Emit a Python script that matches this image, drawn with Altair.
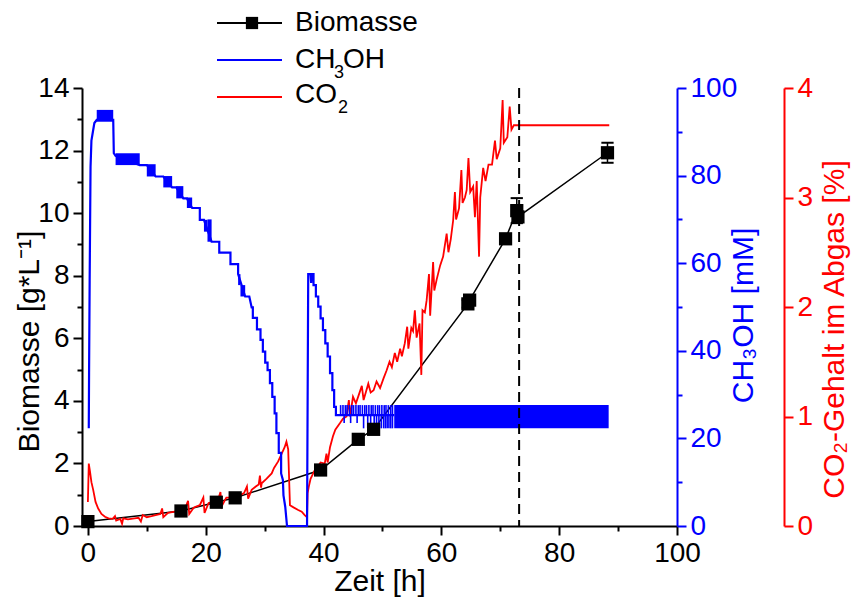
import altair as alt
import pandas as pd

FONT = "Liberation Sans"
BLUE = "#0000ff"
RED = "#ff0000"

# ---------------- data ----------------
bio_t = [0.0, 15.8, 21.8, 25.0, 39.5, 45.9, 48.5, 64.5, 64.8, 70.9, 72.8, 73.0, 88.2]
bio_v = [0.14, 0.48, 0.76, 0.90, 1.79, 2.77, 3.09, 7.10, 7.22, 9.18, 10.08, 9.88, 11.93]
bio_err = [0, 0, 0, 0, 0, 0, 0, 0.12, 0.10, 0, 0.40, 0, 0.32]

ch_t = [0.15, 0.20, 0.30, 0.45, 0.60, 0.85, 1.10, 1.50, 4.30, 4.40, 4.70, 8.80, 10.0, 11.5,
        12.8, 14.3, 15.0, 16.2, 16.8, 17.7, 19.0, 19.0, 19.7, 21.0, 22.3, 22.3, 24.2, 24.2,
        25.5, 25.5, 26.7, 27.4, 27.8, 28.0, 28.0, 28.7, 28.7, 29.3, 29.3, 29.7, 29.7, 30.1,
        30.1, 30.5, 30.5, 30.9, 30.9, 31.3, 31.3, 31.7, 31.7, 32.0, 32.0, 32.4, 32.4, 32.8,
        32.8, 33.1, 33.2, 33.5, 33.8, 37.2, 37.4, 37.8, 37.9, 38.0, 38.3, 38.3, 38.7, 38.7,
        39.1, 39.1, 39.5, 39.5, 39.9, 39.9, 40.3, 40.3, 40.7, 40.7, 41.1, 41.1, 41.5, 41.5,
        41.8, 41.8, 42.1, 42.1, 52.0]
ch_v = [22.3, 35.0, 56.0, 82.0, 88.0, 90.0, 92.0, 92.7, 92.7, 85.1, 84.5, 82.4, 82.4, 79.8,
        79.8, 77.3, 77.3, 74.8, 74.8, 72.6, 72.6, 69.9, 69.9, 64.9, 64.9, 62.4, 62.4, 59.8,
        59.8, 57.5, 52.4, 52.4, 49.9, 49.9, 47.5, 47.5, 44.9, 44.9, 42.5, 42.5, 39.8, 39.8,
        37.3, 37.3, 35.6, 35.6, 32.6, 32.6, 29.5, 29.5, 25.7, 25.7, 21.2, 21.2, 16.7, 16.7,
        12.0, 10.5, 7.0, 4.4, 0.0, 0.0, 57.5, 57.5, 55.5, 57.5, 57.5, 55.0, 55.0, 52.4,
        52.4, 50.1, 50.1, 47.4, 47.4, 44.7, 44.7, 41.7, 41.7, 38.7, 38.7, 34.9, 34.9, 31.0,
        31.0, 27.2, 27.2, 25.3, 25.3]

# dense oscillation blocks of the methanol signal
blk_t0 = [1.5, 4.7, 10.0, 12.8, 15.0, 16.8, 19.7, 20.3, 25.5, 25.9, 52.0]
blk_t1 = [4.3, 8.8, 11.5, 14.3, 16.2, 17.7, 20.3, 21.0, 25.9, 26.7, 88.4]
blk_lo = [92.3, 82.4, 79.8, 77.3, 74.8, 72.6, 67.2, 64.9, 55.0, 52.4, 22.3]
blk_hi = [95.0, 85.1, 82.6, 79.9, 77.6, 75.0, 69.9, 70.0, 57.5, 55.0, 27.6]

# single methanol feed spikes
spk_t = [42.9, 43.3, 43.7, 44.0, 44.4, 44.8, 45.1, 45.5, 45.9, 46.2, 46.6, 47.0, 47.3,
         47.7, 48.1, 48.4, 48.8, 49.2, 49.5, 49.9, 50.3, 50.6, 51.0, 51.4, 51.7,
         43.5, 44.6, 45.7, 46.8, 47.5, 48.0, 48.6, 49.0, 49.4, 49.8, 50.2, 50.5, 50.8,
         51.1, 51.4, 51.7]
spk_lo = [25.3] * 25 + [23.5, 23.5, 23.5, 22.3, 22.3, 22.3, 22.3, 22.3, 22.3, 22.3,
                        22.3, 22.3, 22.3, 22.3, 22.3, 22.3]
spk_hi = [27.6] * 25 + [25.3] * 16

co2_t = [0.0, 0.15, 0.35, 0.6, 0.9, 1.3, 1.75, 2.3, 2.9, 3.5, 4.2, 4.6, 4.8, 5.5, 5.8, 6.0,
         6.8, 7.9, 8.6, 9.0, 9.3, 10.0, 10.8, 11.5, 12.3, 12.6, 12.8, 13.6, 14.5, 15.5, 16.5,
         17.0, 17.2, 18.0, 19.0, 19.6, 19.8, 20.5, 21.3, 22.1, 22.5, 22.7, 23.5, 24.3, 25.0,
         25.8, 26.5, 27.0, 27.2, 27.8, 28.5, 29.0, 29.2, 29.4, 29.5, 30.3, 31.2, 31.6, 32.3,
         32.9, 33.4, 33.7, 34.0, 34.3, 34.9, 35.7, 36.3, 36.8, 37.2, 37.3, 37.5, 37.8, 38.5,
         39.0, 39.5, 40.2, 40.5, 40.7, 41.1, 41.6, 42.0, 42.8, 43.3, 43.9, 44.3, 44.5, 45.0,
         45.5, 46.0, 46.5, 46.8, 47.6, 48.0, 48.5, 49.0, 49.6, 50.2, 50.7, 51.2, 51.6, 52.1,
         52.5, 53.0, 53.3, 53.8, 54.2, 54.4, 54.9, 55.2, 55.5, 55.8, 56.3, 56.6, 56.8, 57.2,
         57.5, 57.9, 58.1, 58.6, 58.8, 59.2, 59.8, 60.3, 60.9, 61.2, 61.6, 62.0, 62.3, 62.5,
         63.0, 63.4, 63.6, 64.0, 64.3, 64.6, 64.9, 65.4, 65.7, 66.0, 66.4, 66.6, 67.1, 67.5,
         68.0, 68.6, 69.1, 69.4, 70.0, 70.4, 70.6, 71.2, 71.6, 71.9, 72.3, 88.5]
co2_v = [0.22, 0.57, 0.50, 0.40, 0.33, 0.22, 0.16, 0.11, 0.085, 0.07, 0.065, 0.09, 0.05, 0.065,
         0.02, 0.07, 0.06, 0.07, 0.075, 0.04, 0.10, 0.08, 0.09, 0.10, 0.11, 0.16, 0.08, 0.12,
         0.13, 0.14, 0.16, 0.23, 0.11, 0.17, 0.19, 0.26, 0.12, 0.21, 0.22, 0.24, 0.31, 0.18,
         0.26, 0.26, 0.26, 0.28, 0.30, 0.36, 0.25, 0.33, 0.36, 0.38, 0.46, 0.35, 0.39, 0.43,
         0.48, 0.53, 0.59, 0.66, 0.72, 0.77, 0.70, 0.19, 0.17, 0.146, 0.13, 0.10, 0.08, 0.30,
         0.36, 0.43, 0.51, 0.54, 0.58, 0.57, 0.66, 0.58, 0.72, 0.82, 0.88, 0.94, 0.98, 1.00,
         1.15, 1.00, 1.18, 1.12, 1.20, 1.28, 1.15, 1.30, 1.22, 1.24, 1.32, 1.26, 1.35, 1.42,
         1.50, 1.45, 1.58, 1.50, 1.62, 1.55, 1.67, 1.82, 1.62, 1.81, 1.78, 1.97, 1.72, 1.85,
         1.38, 1.97, 1.95, 2.06, 2.30, 1.92, 2.41, 2.15, 2.25, 2.38, 2.46, 2.67, 2.50, 2.62,
         2.79, 3.05, 2.80, 2.90, 3.25, 2.95, 3.00, 3.07, 3.36, 3.05, 3.10, 2.82, 3.15, 2.46,
         3.00, 3.27, 3.15, 3.30, 3.30, 3.52, 3.35, 3.45, 3.89, 3.50, 3.55, 3.83, 3.62, 3.66,
         3.66]

cut_t = [73.2]
# legend texts: main part and subscript part
legend_main = ["Biomasse", "CH", "CO"]
legend_sub = ["", "3", "2"]
legend_tail = ["", "OH", ""]

# ---------------- frames ----------------
bio_df = pd.DataFrame({"t": bio_t, "v": bio_v, "err": bio_err})
bio_df["lo"] = bio_df["v"] - bio_df["err"]
bio_df["hi"] = bio_df["v"] + bio_df["err"]
err_df = bio_df[bio_df["err"] > 0]

ch_df = pd.DataFrame({"t": ch_t, "v": ch_v, "i": range(len(ch_t))})
blk_df = pd.DataFrame({"t0": blk_t0, "t1": blk_t1, "lo": blk_lo, "hi": blk_hi})
spk_df = pd.DataFrame({"t": spk_t, "lo": spk_lo, "hi": spk_hi})
co2_df = pd.DataFrame({"t": co2_t, "v": co2_v, "i": range(len(co2_t))})
cut_df = pd.DataFrame({"t": cut_t})

# ---------------- axes ----------------
def major_test(step):
    return f"abs(datum.value / {step} - round(datum.value / {step})) < 1e-6"


def make_axis(title, color, values, step, orient, offset=0, **kw):
    return alt.Axis(
        title=title, orient=orient, offset=offset, values=values, format="d",
        labelExpr=f"{major_test(step)} ? datum.label : ''",
        tickSize={"condition": {"test": major_test(step), "value": 9}, "value": 5},
        tickWidth=2, domainWidth=2, domainColor=color, tickColor=color,
        labelColor=color, titleColor=color, labelFont=FONT, labelFontSize=28,
        titleFont=FONT, titleFontSize=30, titleFontWeight="normal",
        labelPadding=4, labelOverlap=False, labelFlush=False, grid=False, **kw)


x_axis = make_axis("Zeit [h]", "black", list(range(0, 101, 10)), 20, "bottom",
                   titleBaseline="alphabetic", titleY=64)
bio_axis = make_axis("Biomasse [g*L⁻¹]", "black", list(range(0, 15)), 2, "left",
                     titleAngle=270, titleX=-53, titleY=253, titleAlign="center",
                     titleBaseline="middle")
ch_axis = make_axis("CH₃OH [mM]", BLUE, list(range(0, 101, 10)), 20, "right",
                    titleAngle=270, titleX=66, titleY=227, titleAlign="center",
                    titleBaseline="middle")
co2_axis = make_axis("CO₂-Gehalt im Abgas [%]", RED, [i * 0.5 for i in range(9)], 1,
                     "right", offset=107, titleAngle=270, titleX=50, titleY=241,
                     titleAlign="center", titleBaseline="middle")

xs = alt.Scale(domain=[-1, 100], nice=False, zero=False)
ybio = alt.Scale(domain=[0, 14], nice=False, zero=False)
ych = alt.Scale(domain=[0, 100], nice=False, zero=False)
yco2 = alt.Scale(domain=[0, 4], nice=False, zero=False)

# every layer carries the same (shared) x axis definition so the merge keeps it
X0 = alt.X("t:Q", scale=xs, axis=x_axis)

# ---------------- biomass ----------------
bio_line = alt.Chart(bio_df).mark_line(color="black", strokeWidth=1.5).encode(
    x=X0, y=alt.Y("v:Q", scale=ybio, axis=bio_axis))
bio_err_rule = alt.Chart(err_df).mark_rule(color="black", strokeWidth=1.5).encode(
    x=X0, y=alt.Y("lo:Q", scale=ybio, axis=None), y2="hi:Q")
bio_cap_lo = alt.Chart(err_df).mark_point(shape="stroke", size=150, strokeWidth=2,
                                          color="black", opacity=1).encode(
    x=X0, y=alt.Y("lo:Q", scale=ybio, axis=None))
bio_cap_hi = alt.Chart(err_df).mark_point(shape="stroke", size=150, strokeWidth=2,
                                          color="black", opacity=1).encode(
    x=X0, y=alt.Y("hi:Q", scale=ybio, axis=None))
bio_pts = alt.Chart(bio_df).mark_square(size=175, color="black", opacity=1).encode(
    x=X0, y=alt.Y("v:Q", scale=ybio, axis=None))
cut = alt.Chart(cut_df).mark_rule(color="black", strokeWidth=2, strokeDash=[10, 6]).encode(
    x=X0)

# ---------------- methanol ----------------
ch_blk = alt.Chart(blk_df).mark_rect(color=BLUE).encode(
    x=alt.X("t0:Q", scale=xs, axis=x_axis), x2="t1:Q",
    y=alt.Y("lo:Q", scale=ych, axis=ch_axis), y2="hi:Q")
ch_spk = alt.Chart(spk_df).mark_rule(color=BLUE, strokeWidth=1.6).encode(
    x=X0, y=alt.Y("lo:Q", scale=ych, axis=None), y2="hi:Q")
ch_line = alt.Chart(ch_df).mark_line(color=BLUE, strokeWidth=2.2).encode(
    x=X0, y=alt.Y("v:Q", scale=ych, axis=None), order="i:Q")

# ---------------- CO2 ----------------
co2_line = alt.Chart(co2_df).mark_line(color=RED, strokeWidth=1.8).encode(
    x=X0, y=alt.Y("v:Q", scale=yco2, axis=co2_axis), order="i:Q")

# ---------------- legend ----------------
leg_y = [-65, -28, 7]
leg_line_y = [-65, -28, 9]
leg_colors = ["black", BLUE, RED]
leg_sub_x = [0, 252, 256]
legend_parts = []
for k in range(3):
    d = pd.DataFrame({"main": [legend_main[k]], "sub": [legend_sub[k]],
                      "tail": [legend_tail[k]]})
    legend_parts.append(alt.Chart(d).mark_rule(color=leg_colors[k], strokeWidth=2).encode(
        x=alt.value(135), x2=alt.value(200), y=alt.value(leg_line_y[k])))
    legend_parts.append(alt.Chart(d).mark_text(
        align="left", baseline="middle", font=FONT, fontSize=28, color="black").encode(
        x=alt.value(213), y=alt.value(leg_y[k]), text="main:N"))
    if legend_sub[k]:
        legend_parts.append(alt.Chart(d).mark_text(
            align="left", baseline="middle", font=FONT, fontSize=18, color="black").encode(
            x=alt.value(leg_sub_x[k]), y=alt.value(leg_y[k] + 13), text="sub:N"))
    if legend_tail[k]:
        legend_parts.append(alt.Chart(d).mark_text(
            align="left", baseline="middle", font=FONT, fontSize=28, color="black").encode(
            x=alt.value(leg_sub_x[k] + 9), y=alt.value(leg_y[k]), text="tail:N"))
legend_parts.append(alt.Chart(pd.DataFrame({"main": [legend_main[0]]})).mark_square(
    size=150, color="black", opacity=1).encode(x=alt.value(170), y=alt.value(leg_y[0])))

chart = alt.layer(
    bio_line, ch_blk, co2_line, ch_spk, ch_line, cut, bio_err_rule, bio_cap_lo,
    bio_cap_hi, bio_pts, *legend_parts
).resolve_scale(
    y="independent"
).properties(
    width=595, height=438,
    autosize=alt.AutoSizeParams(type="none"),
    padding={"left": 82, "top": 88, "right": 176, "bottom": 71},
    background="white",
).configure_view(stroke=None)

chart.save("out.html", embed_options={"renderer": "svg", "actions": False})
